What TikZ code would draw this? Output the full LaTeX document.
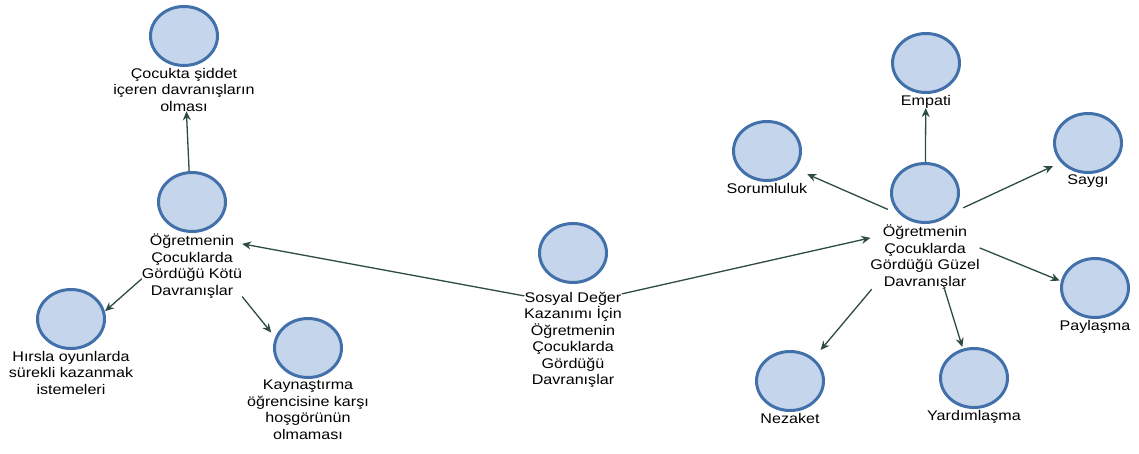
\documentclass[tikz,border=0pt]{standalone}
\usepackage{fontspec}
\setmainfont{Liberation Sans}[FakeStretch=1.15]
\usetikzlibrary{positioning,fit,shapes.geometric,arrows.meta}
\definecolor{kenar}{RGB}{66,112,170}
\definecolor{dolgu}{RGB}{197,213,235}
\definecolor{okrenk}{RGB}{45,74,68}
% balon: daire + altinda yazi, ikisini saran grup dugumu
\newcommand{\balon}[5][1pt]{%
  \node[disk] (#2c) at (#3,#4) {};
  \node[yazi,below=#1 of #2c] (#2t) {#5};
  \node[grp,fit=(#2c)(#2t)] (#2) {};
}
\begin{document}
\begin{tikzpicture}[x=1pt,y=-1pt,
  disk/.style={ellipse,draw=kenar,fill=dolgu,line width=3pt,minimum width=67pt,minimum height=59pt},
  yazi/.style={align=center,inner sep=0pt,outer sep=0pt,font=\fontsize{14}{16.5}\selectfont},
  grp/.style={inner sep=0pt,outer sep=0pt},
  ok/.style={draw=okrenk,line width=1.3pt,-{Stealth[length=9pt,width=8pt]}}]
\useasboundingbox (0,0) rectangle (1139,454);
% orta
\balon[8pt]{ctr}{573}{253}{Sosyal Değer\\Kazanımı İçin\\Öğretmenin\\Çocuklarda\\Gördüğü\\Davranışlar}
% sol taraf
\balon{kotu}{192}{202}{Öğretmenin\\Çocuklarda\\Gördüğü Kötü\\Davranışlar}
\balon{siddet}{184}{36}{Çocukta şiddet\\içeren davranışların\\olması}
\balon{hirs}{71}{319}{Hırsla oyunlarda\\sürekli kazanmak\\istemeleri}
\balon{kayn}{308}{348}{Kaynaştırma\\öğrencisine karşı\\hoşgörünün\\olmaması}
% sag taraf
\balon{guzel}{925}{193}{Öğretmenin\\Çocuklarda\\Gördüğü Güzel\\Davranışlar}
\balon{empati}{926}{63}{Empati}
\balon{sorum}{767}{151}{Sorumluluk}
\balon{saygi}{1088}{143}{Saygı}
\balon{paylas}{1095}{288}{Paylaşma}
\balon{nezaket}{790}{381}{Nezaket}
\balon{yardim}{974}{378}{Yardımlaşma}
% oklar
\draw[ok] (ctr) -- (kotu);
\draw[ok] (ctr) -- (guzel);
\draw[ok] (kotu) -- (siddet);
\draw[ok,shorten >=-35pt] (kotu) -- (hirs);
\draw[ok,shorten >=-20pt] (kotu) -- (kayn);
\draw[ok] (guzel) -- (empati);
\draw[ok,shorten <=-19pt] (guzel) -- (sorum);
\draw[ok,shorten <=-18pt] (guzel) -- (saygi);
\draw[ok] (guzel) -- (paylas);
\draw[ok] (guzel) -- (nezaket);
\draw[ok] (guzel) -- (yardim);
\end{tikzpicture}
\end{document}
